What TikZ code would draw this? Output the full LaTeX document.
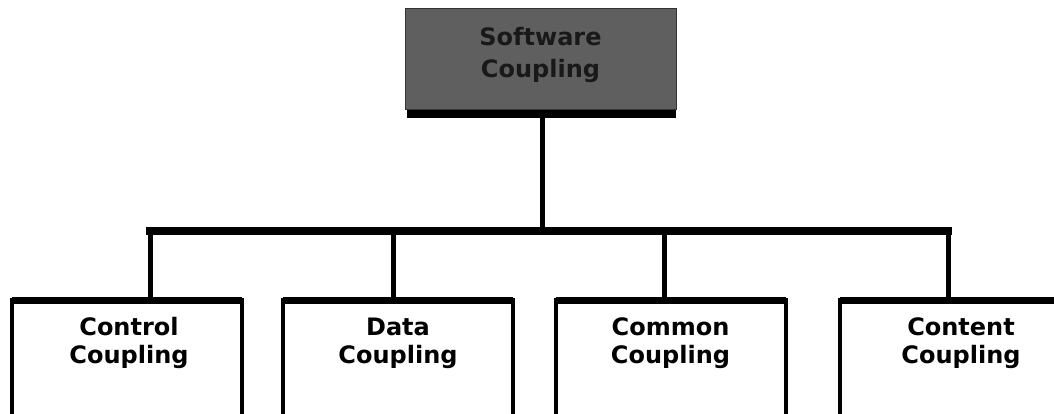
\documentclass[tikz,border=0pt]{standalone}
\usepackage{fontspec}
\setmainfont{DejaVu Sans}
\definecolor{topgray}{RGB}{95,95,95}
\definecolor{toptext}{RGB}{25,25,25}
\newcommand{\asc}{\vphantom{Clf}}
\begin{document}
\begin{tikzpicture}[x=1pt,y=1pt,
  topbox/.style={rectangle,draw=black!80,line width=1pt,fill=topgray,outer sep=0pt,
    minimum width=271pt,minimum height=101pt,inner sep=0pt},
  leafbox/.style={rectangle,draw=black,line width=4pt,outer sep=0pt,
    minimum width=230pt,minimum height=200pt,anchor=north,inner sep=0pt},
  toplabel/.style={anchor=north,inner sep=0pt,align=center,text=toptext,
    font=\fontsize{24}{31.7}\selectfont\bfseries},
  leaflabel/.style={anchor=north,inner sep=0pt,align=center,text=black,
    font=\fontsize{24}{28.3}\selectfont\bfseries},
  conn/.style={draw=black,line width=5pt},
  barline/.style={draw=black,line width=7.5pt,line cap=rect},
  topedge/.style={draw=black,line width=7pt}
]
\useasboundingbox (0,0) rectangle (1054,413);
\clip (0,0) rectangle (1054,413);

% top box with shadow
\node[topbox] (sw) at (540.5,353.5) {};
\fill[black] ([xshift=2pt]sw.south west) rectangle ([yshift=-8pt]sw.south east);
\node[toplabel] (swt) at (540.5,386) {\asc Software\\Coupling};

% leaf boxes
\node[leafbox] (control) at (127,113) {};
\node[leafbox] (data) at (398,113) {};
\node[leafbox] (common) at (670.5,113) {};
\node[leafbox] (content) at (955,113) {};
\foreach \b in {control,data,common,content}
  \draw[topedge] (\b.north west) -- (\b.north east);

\node[leaflabel] (controlt) at (129,96) {\asc Control\\Coupling};
\node[leaflabel] (datat) at (398,96) {\asc Data\\Coupling};
\node[leaflabel] (commont) at (670.5,96) {\asc Common\\Coupling};
\node[leaflabel] (contentt) at (961,96) {\asc Content\\Coupling};

% connectors
\coordinate (bar) at (542,182);
\coordinate (barL) at ([xshift=23pt]control.north |- bar);
\coordinate (barR) at ([xshift=-7pt]content.north |- bar);
\draw[conn] ([xshift=1.5pt,yshift=-8pt]sw.south) -- ([xshift=1.5pt]sw.south |- bar);
\draw[barline] (barL) -- (barR);
\draw[conn] (barL) -- ([xshift=23pt]control.north);
\draw[conn] ([xshift=-5pt]data.north |- bar) -- ([xshift=-5pt]data.north);
\draw[conn] ([xshift=-6.5pt]common.north |- bar) -- ([xshift=-6.5pt]common.north);
\draw[conn] (barR) -- ([xshift=-7pt]content.north);
\end{tikzpicture}
\end{document}
